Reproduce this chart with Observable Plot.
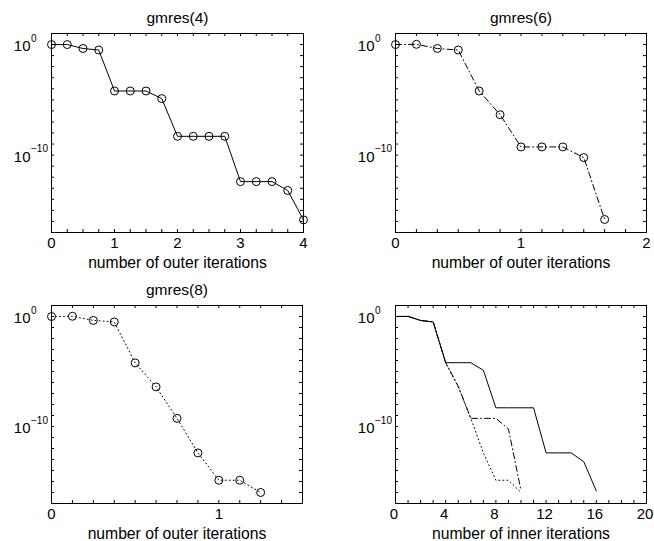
<!DOCTYPE html>
<html><head><meta charset="utf-8">
<script src="https://cdn.jsdelivr.net/npm/d3@7"></script>
<script src="https://cdn.jsdelivr.net/npm/@observablehq/plot@0.6"></script>
<style>
body{margin:0;background:#fff;}
#chart{position:relative;width:654px;height:541px;background:#fff;}
#chart svg{position:absolute;overflow:visible;}
</style></head><body><div id="chart"></div>
<script>
// ---- data ----
const restarts = [4, 6, 8];
const titles = ["gmres(4)", "gmres(6)", "gmres(8)"];
const resGmres4 = [1, 1, 0.44, 0.32, 6.3e-5, 6.3e-5, 6.3e-5, 1.3e-5, 5e-9, 5e-9, 5e-9, 5e-9, 4e-13, 4e-13, 4e-13, 6.3e-14, 1.4e-16];
const resGmres6 = [1, 1.05, 0.44, 0.32, 6.3e-5, 4.5e-7, 5.5e-10, 5.5e-10, 5.5e-10, 6e-11, 1.5e-16];
const resGmres8 = [1, 1.05, 0.44, 0.32, 6e-5, 4e-7, 5.5e-10, 4e-13, 1.3e-15, 1.3e-15, 1e-16];
const outerXMax = [4, 2, 1.5];
const outerXTickLabels = [[0, 1, 2, 3, 4], [0, 1, 2], [0, 1]];
const innerXMax = 20;
const innerXTickLabels = [0, 4, 8, 12, 16, 20];
const yTickLabels = [1e0, 1e-10];
const yDecadeTicks = [1e1, 1e0, 1e-1, 1e-2, 1e-3, 1e-4, 1e-5, 1e-6, 1e-7, 1e-8, 1e-9, 1e-10, 1e-11, 1e-12, 1e-13, 1e-14, 1e-15, 1e-16, 1e-17];
const yDomain = [1e-17, 1e1];
const xLabelOuter = "number of outer iterations";
const xLabelInner = "number of inner iterations";
const dashes = [null, "6,3,1,3", "1,3"];

const allRes = [resGmres4, resGmres6, resGmres8];
const FONT = '"Liberation Sans", Arial, Helvetica, sans-serif';

const expFmt = d => { const e = Math.round(Math.log10(d)); return e < 0 ? "\u2212" + (-e) : String(e); };

function panel({left, top, width, height, mL, mR, mT, mB, xMax, xLabels, xMinor, series, title, xlabel, xdx = 0}) {
  const pw = width - mL - mR, ph = height - mT - mB;
  const marks = [
    Plot.tickX(xMinor, {x: d => d, insetTop: ph - 3, stroke: "black", strokeWidth: 1}),
    Plot.tickX(xMinor, {x: d => d, insetBottom: ph - 3, stroke: "black", strokeWidth: 1}),
    Plot.tickY(yDecadeTicks, {y: d => d, insetRight: pw - 3, stroke: "black", strokeWidth: 1}),
    Plot.tickY(yDecadeTicks, {y: d => d, insetLeft: pw - 3, stroke: "black", strokeWidth: 1})
  ];
  for (const s of series) {
    marks.push(Plot.line(s.data, {x: "x", y: "y", stroke: "black", strokeWidth: 1, strokeDasharray: s.dash ?? undefined}));
    if (s.dots) marks.push(Plot.dot(s.data, {x: "x", y: "y", r: 4, stroke: "black", strokeWidth: 1, fill: "none"}));
  }
  marks.push(
    Plot.frame({stroke: "black", strokeWidth: 1}),
    Plot.axisX(xLabels, {tickSize: 0, tickPadding: 5, label: null, fontSize: 15, tickFormat: d => String(d), dx: xdx}),
    Plot.axisY(yTickLabels, {tickSize: 0, tickPadding: 21, tickFormat: () => "10", dy: 2, label: null, fontSize: 15}),
    Plot.axisY(yTickLabels, {tickSize: 0, tickPadding: 20.5, tickFormat: expFmt, textAnchor: "start", dy: -6, label: null, fontSize: 10}),
    Plot.text([xlabel], {frameAnchor: "bottom", dy: 30, lineAnchor: "middle", fontSize: 15.7, fill: "black"})
  );
  if (title) marks.push(Plot.text([title], {frameAnchor: "top", dy: -15.5, lineAnchor: "middle", fontSize: 15.5, fill: "black"}));
  const svg = Plot.plot({
    width, height, marginLeft: mL, marginRight: mR, marginTop: mT, marginBottom: mB,
    x: {domain: [0, xMax]},
    y: {type: "log", domain: yDomain},
    style: {fontFamily: FONT, fontSize: "15px", background: "white", color: "black", overflow: "visible"},
    marks
  });
  svg.style.left = left + "px";
  svg.style.top = top + "px";
  document.getElementById("chart").appendChild(svg);
}

const pos = [
  {left: 0, top: 0, width: 327, height: 270, mL: 51, mR: 24, mT: 33, mB: 38},
  {left: 327, top: 0, width: 327, height: 270, mL: 68, mR: 8, mT: 33, mB: 38},
  {left: 0, top: 270, width: 327, height: 271, mL: 51, mR: 25, mT: 35, mB: 38},
  {left: 327, top: 270, width: 327, height: 271, mL: 68, mR: 8, mT: 35, mB: 38}
];

for (let k = 0; k < 3; k++) {
  const m = restarts[k];
  const data = allRes[k].map((v, i) => ({x: i / m, y: v}));
  panel({
    ...pos[k], xMax: outerXMax[k], xLabels: outerXTickLabels[k],
    xMinor: d3.range(0, outerXMax[k] + 1e-9, 1 / m),
    series: [{data, dash: dashes[k], dots: true}],
    title: titles[k], xlabel: xLabelOuter
  });
}
panel({
  ...pos[3], xMax: innerXMax, xLabels: innerXTickLabels,
  xMinor: d3.range(0, innerXMax + 1e-9, 1),
  series: allRes.map((r, k) => ({data: r.map((v, i) => ({x: i, y: v})), dash: dashes[k], dots: false})),
  title: null, xlabel: xLabelInner, xdx: -1.5
});
</script></body></html>
